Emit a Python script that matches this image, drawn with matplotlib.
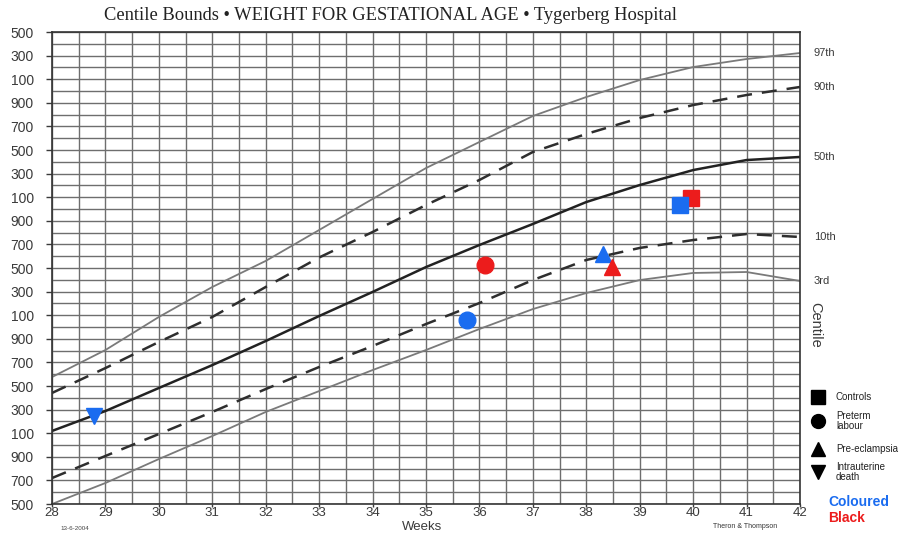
import matplotlib
matplotlib.use("Agg")
import matplotlib.pyplot as plt
import numpy as np

# gestational age (weeks) and centile weights (g)
weeks = [28, 29, 30, 31, 32, 33, 34, 35, 36, 37, 38, 39, 40, 41, 42]
c97 = [1576, 1805, 2085, 2339, 2560, 2822, 3085, 3347, 3568, 3788, 3949, 4093, 4203, 4271, 4322]
c90 = [1441, 1652, 1873, 2085, 2339, 2589, 2805, 3034, 3246, 3483, 3636, 3771, 3881, 3966, 4034]
c50 = [1119, 1288, 1483, 1677, 1881, 2093, 2297, 2508, 2695, 2873, 3059, 3203, 3330, 3415, 3441]
c10 = [720, 907, 1093, 1280, 1474, 1661, 1839, 2025, 2203, 2398, 2568, 2670, 2737, 2788, 2763]
c3 = [500, 678, 881, 1076, 1280, 1457, 1635, 1805, 1983, 2152, 2288, 2398, 2458, 2466, 2390]

centile_names = ['97th', '90th', '50th', '10th', '3rd']

# patient groups: (week, weight) for Coloured (blue) and Black (red)
controls_col = (39.76, 3030)
controls_blk = (39.96, 3093)
preterm_col = (35.77, 2059)
preterm_blk = (36.11, 2525)
preecl_col = (38.32, 2615)
preecl_blk = (38.49, 2505)
iud_col = (28.79, 1245)

ytick_vals = list(range(500, 4501, 200))
ytick_labels = [str(v % 1000) for v in ytick_vals]

blue = '#1a6cf0'
red = '#ec1c1c'
grid_col = '#6e6e6e'
text_col = '#3a3a3a'
sans = 'Liberation Sans'

fig = plt.figure(figsize=(9.06, 5.33), dpi=100)
ax = fig.add_axes([52 / 906, 1 - 504 / 533, 748 / 906, 472 / 533])

# chart grid: 0.5 week by 100 g
for w in np.arange(28, 42.01, 0.5):
    ax.axvline(w, color=grid_col, lw=1.0, zorder=1)
for g in range(500, 4501, 100):
    ax.axhline(g, color=grid_col, lw=1.0, zorder=1)

ax.plot(weeks, c97, color='#7a7a7a', lw=1.3, zorder=2)
ax.plot(weeks, c90, color='#2e2e2e', lw=1.8, ls=(0, (6, 4)), zorder=2)
ax.plot(weeks, c50, color='#222222', lw=1.8, zorder=2)
ax.plot(weeks, c10, color='#2e2e2e', lw=1.8, ls=(0, (6, 4)), zorder=2)
ax.plot(weeks, c3, color='#7a7a7a', lw=1.3, zorder=2)

# markers
ax.plot(*controls_blk, marker='s', color=red, ms=12, ls='none', zorder=4)
ax.plot(*controls_col, marker='s', color=blue, ms=12, ls='none', zorder=5)
ax.plot(*preterm_blk, marker='o', color=red, ms=12, ls='none', zorder=4)
ax.plot(*preterm_col, marker='o', color=blue, ms=12, ls='none', zorder=4)
ax.plot(*preecl_col, marker='^', color=blue, ms=12, ls='none', zorder=4)
ax.plot(*preecl_blk, marker='^', color=red, ms=12, ls='none', zorder=5)
ax.plot(*iud_col, marker='v', color=blue, ms=12, ls='none', zorder=4)

ax.set_xlim(28, 42)
ax.set_ylim(500, 4500)
ax.set_xticks(range(28, 43))
ax.set_yticks(ytick_vals)
ax.set_yticklabels(ytick_labels)
ax.tick_params(axis='both', colors=text_col, labelsize=10, length=4, width=1)
ax.tick_params(axis='x', pad=0, labelsize=9.5, length=2)
ax.tick_params(axis='y', pad=9)
for lab in ax.get_xticklabels() + ax.get_yticklabels():
    lab.set_family(sans)
for s in ax.spines.values():
    s.set_color('#333333')
    s.set_linewidth(1.2)

fig.text(422 / 906, 0.0, 'Weeks', family=sans, fontsize=9.5, color=text_col,
         ha='center', va='bottom')

fig.text(0.431, 0.97, 'Centile Bounds \u2022 WEIGHT FOR GESTATIONAL AGE \u2022 Tygerberg Hospital',
         family='Liberation Serif', fontsize=13.3, color='#222222', ha='center', va='center')

# centile labels at right edge
for name, series in zip(centile_names, [c97, c90, c50, c10, c3]):
    ax.annotate(name, xy=(42, series[-1]), xytext=(10, 0), textcoords='offset points',
                family=sans, fontsize=8, color=text_col, va='center', annotation_clip=False)
fig.text(815 / 906, 1 - 325 / 533, 'Centile', rotation=270, family=sans, fontsize=10.5,
         color=text_col, ha='center', va='center')

# legend
leg_items = [('s', 'Controls', 397), ('o', 'Preterm\nlabour', 421),
             ('^', 'Pre-eclampsia', 449), ('v', 'Intrauterine\ndeath', 472)]
for mk, lab, ypx in leg_items:
    fig.lines.append(plt.Line2D([818 / 906], [1 - ypx / 533], marker=mk, color='black',
                                ms=10, ls='none', transform=fig.transFigure))
    fig.text(836 / 906, 1 - ypx / 533, lab, family=sans, fontsize=7, color='#222222',
             va='center', ha='left', linespacing=1.0)
fig.text(828 / 906, 1 - 502 / 533, 'Coloured', family=sans, fontsize=10, fontweight='bold',
         color=blue, va='center', ha='left')
fig.text(828 / 906, 1 - 518 / 533, 'Black', family=sans, fontsize=10, fontweight='bold',
         color=red, va='center', ha='left')

fig.text(745 / 906, 1 - 526 / 533, 'Theron & Thompson', family=sans, fontsize=5,
         color='#333333', ha='center', va='center')
fig.text(60 / 906, 1 - 529 / 533, '13-6-2004', family=sans, fontsize=4.5, color='#444444',
         ha='left', va='center')

fig.savefig('out.png', dpi=100, facecolor='white')
